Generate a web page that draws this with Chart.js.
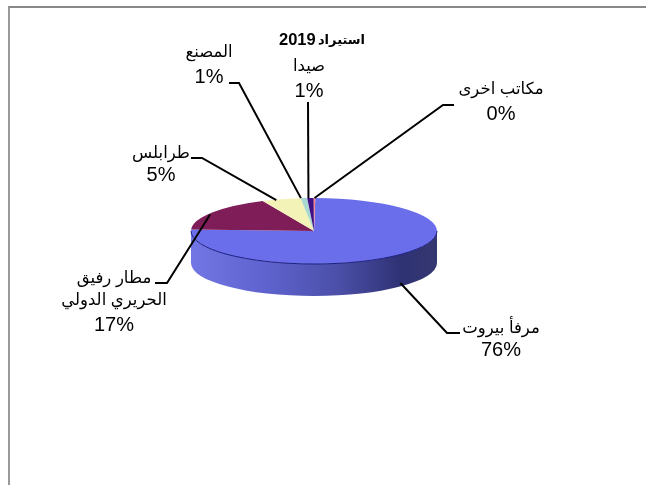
<!DOCTYPE html>
<html lang="ar">
<head>
<meta charset="utf-8">
<title>استيراد 2019</title>
<script src="https://cdn.jsdelivr.net/npm/chart.js@4"></script>
<style>
  html, body { margin: 0; padding: 0; background: #fff; }
  #wrap { position: relative; width: 646px; height: 485px; overflow: hidden; }
  #frame { position: absolute; left: 8px; top: 6px; right: 0; bottom: 0;
           border-left: 2px solid #999; border-top: 2px solid #888; }
  #chart { position: absolute; left: 0; top: 0; }
</style>
</head>
<body>
<div id="wrap">
  <div id="frame"></div>
  <canvas id="chart" width="646" height="485"></canvas>
</div>
<script>
const titleWord = "استيراد";
const titleYear = "2019";
const categories = [
  ["مرفأ بيروت"],
  ["مطار رفيق", "الحريري الدولي"],
  ["طرابلس"],
  ["المصنع"],
  ["صيدا"],
  ["مكاتب اخرى"]
];
const shares = [75.6, 17.4, 5.1, 0.85, 0.85, 0.2];
const sliceColors = ["#6a6eea", "#7f1d58", "#f3f3b8", "#a8d8d0", "#3f0f86", "#ff8080"];

// leader lines and text blocks, same order as categories
const callouts = [
  { dx: 2, drop: 28, elbow: [447, 333], stub: 460, textX: 501, textY: [328, 350] },
  { dx: -2, drop: 2, elbow: [167, 283], stub: 155, textX: 114, textY: [278, 300, 325] },
  { dx: -5, drop: 1, elbow: [202, 158], stub: 191, textX: 161, textY: [153, 175] },
  { dx: -3, drop: 0, elbow: [239, 83], stub: 229, textX: 209, textY: [52, 77] },
  { dx: -2, drop: 0, elbow: [308, 102], stub: 308, textX: 309, textY: [66, 91] },
  { dx: 0, drop: 0, elbow: [443, 105], stub: 454, textX: 501, textY: [89, 114] }
];

const TILT = 33 / 123;
const DEPTH = 32;
const ARABIC_FONT = '16.5px "Liberation Sans", "DejaVu Sans", sans-serif';
const PERCENT_FONT = '20px "Liberation Sans", Arial, sans-serif';

// squash the pie into an ellipse and put a wall under it
const tiltPlugin = {
  id: "tilt",
  beforeDatasetsDraw(chart) {
    const arc = chart.getDatasetMeta(0).data[0];
    const ctx = chart.ctx;
    const rx = arc.outerRadius, ry = rx * TILT;
    const g = ctx.createLinearGradient(arc.x - rx, 0, arc.x + rx, 0);
    g.addColorStop(0, "#7276e4");
    g.addColorStop(0.3, "#5f63cf");
    g.addColorStop(0.6, "#4b4fa8");
    g.addColorStop(0.85, "#2f3274");
    g.addColorStop(1, "#34376f");
    ctx.save();
    ctx.beginPath();
    ctx.ellipse(arc.x, arc.y, rx, ry, 0, 0, Math.PI);
    ctx.ellipse(arc.x, arc.y + DEPTH, rx, ry, 0, Math.PI, 0, true);
    ctx.closePath();
    ctx.fillStyle = g;
    ctx.fill();
    ctx.restore();

    ctx.save();
    ctx.translate(arc.x, arc.y);
    ctx.scale(1, TILT);
    ctx.translate(-arc.x, -arc.y);
  },
  afterDatasetsDraw(chart) {
    const arc = chart.getDatasetMeta(0).data[0];
    const ctx = chart.ctx;
    ctx.restore();
    // navy rim along the front of the top face
    ctx.save();
    ctx.beginPath();
    ctx.ellipse(arc.x, arc.y, arc.outerRadius, arc.outerRadius * TILT, 0, 0, Math.PI);
    ctx.strokeStyle = "#1c1f80";
    ctx.lineWidth = 1;
    ctx.stroke();
    ctx.restore();
  }
};

const calloutPlugin = {
  id: "callouts",
  afterDraw(chart) {
    const ctx = chart.ctx;
    const arcs = chart.getDatasetMeta(0).data;
    ctx.save();
    ctx.strokeStyle = "#000";
    ctx.lineWidth = 2;
    ctx.fillStyle = "#000";
    ctx.textBaseline = "middle";

    // title: the year is set larger than the word, as in the original
    ctx.textAlign = "right";
    ctx.font = 'bold 13px "Liberation Sans", "DejaVu Sans", sans-serif';
    ctx.fillText(titleWord, 365, 40);
    ctx.textAlign = "left";
    ctx.font = 'bold 16.5px "Liberation Sans", Arial, sans-serif';
    ctx.fillText(titleYear, 279, 40);

    ctx.textAlign = "center";
    arcs.forEach((arc, i) => {
      const c = callouts[i];
      const mid = (arc.startAngle + arc.endAngle) / 2;
      const r = arc.outerRadius;
      ctx.beginPath();
      ctx.moveTo(arc.x + r * Math.cos(mid) + c.dx, arc.y + r * TILT * Math.sin(mid) + c.drop);
      ctx.lineTo(c.elbow[0], c.elbow[1]);
      ctx.lineTo(c.stub, c.elbow[1]);
      ctx.stroke();

      const lines = categories[i];
      ctx.font = ARABIC_FONT;
      lines.forEach((line, n) => ctx.fillText(line, c.textX, c.textY[n]));
      ctx.font = PERCENT_FONT;
      ctx.fillText(Math.round(shares[i]) + "%", c.textX, c.textY[lines.length]);
    });
    ctx.restore();
  }
};

new Chart(document.getElementById("chart"), {
  type: "pie",
  data: {
    labels: categories,
    datasets: [{
      data: shares,
      backgroundColor: sliceColors,
      borderWidth: 0,
      clip: false
    }]
  },
  options: {
    responsive: false,
    animation: false,
    radius: 123,
    rotation: 0.6,
    layout: { padding: { left: 0, right: 18, top: 0, bottom: 23 } },
    plugins: {
      legend: { display: false },
      tooltip: { enabled: false },
      title: { display: false }
    }
  },
  plugins: [tiltPlugin, calloutPlugin]
});
</script>
</body>
</html>
